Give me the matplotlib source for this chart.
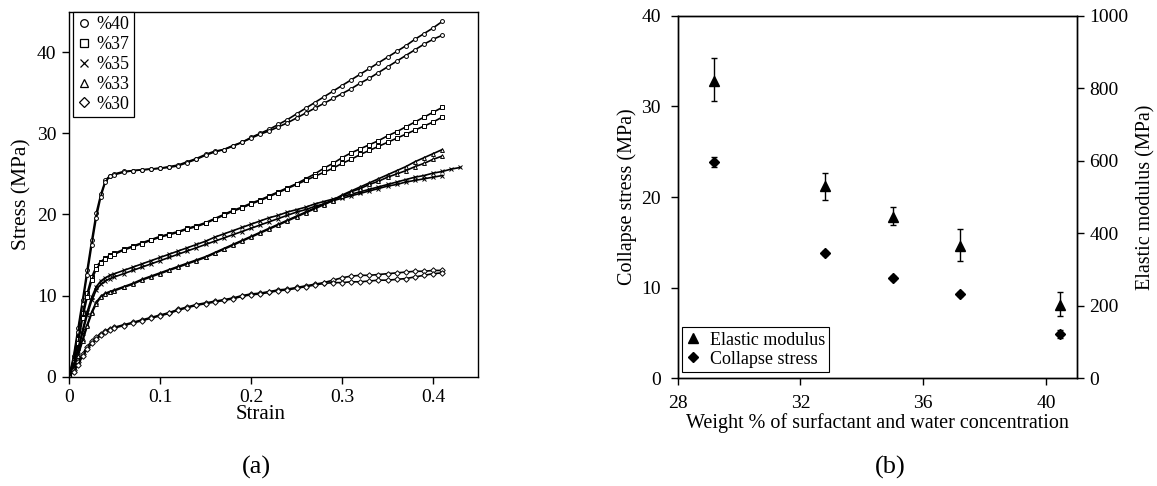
import matplotlib
matplotlib.use("Agg")
import matplotlib.pyplot as plt
from matplotlib.lines import Line2D

plt.rcParams['font.family'] = ['Liberation Serif', 'DejaVu Serif']
plt.rcParams['mathtext.fontset'] = 'stix'

# ---------------------------------------------------------------
# (a) stress-strain curves, two runs per concentration
# ---------------------------------------------------------------
strain = [0, 0.005, 0.01, 0.015, 0.02, 0.025, 0.03, 0.035, 0.04, 0.045,
          0.05, 0.06, 0.07, 0.08, 0.09, 0.10, 0.11, 0.12, 0.13, 0.14,
          0.15, 0.16, 0.17, 0.18, 0.19, 0.20, 0.21, 0.22, 0.23, 0.24,
          0.25, 0.26, 0.27, 0.28, 0.29, 0.30, 0.31, 0.32, 0.33, 0.34,
          0.35, 0.36, 0.37, 0.38, 0.39, 0.40, 0.41]

s40_a = [0, 2.5, 6.0, 9.5, 13.2, 16.8, 20.2, 22.5, 24.2, 24.8,
         25.0, 25.3, 25.4, 25.5, 25.6, 25.7, 25.9, 26.1, 26.5, 26.9,
         27.4, 27.8, 28.0, 28.5, 28.9, 29.5, 30.0, 30.5, 31.1, 31.7,
         32.4, 33.1, 33.8, 34.5, 35.2, 35.9, 36.6, 37.3, 38.0, 38.7,
         39.4, 40.1, 40.8, 41.6, 42.3, 43.0, 43.8]
s40_b = [0, 2.2, 5.5, 9.0, 12.6, 16.2, 19.6, 22.2, 24.0, 24.7,
         24.9, 25.2, 25.4, 25.5, 25.6, 25.7, 25.8, 26.0, 26.4, 26.8,
         27.3, 27.7, 28.0, 28.4, 28.9, 29.4, 29.9, 30.3, 30.8, 31.3,
         31.9, 32.5, 33.1, 33.7, 34.3, 34.9, 35.5, 36.2, 36.8, 37.5,
         38.2, 38.9, 39.6, 40.3, 41.0, 41.6, 42.1]

s37_a = [0, 2.0, 4.6, 7.8, 10.3, 12.3, 13.6, 14.2, 14.6, 15.0,
         15.2, 15.7, 16.1, 16.5, 16.9, 17.3, 17.6, 17.9, 18.3, 18.6,
         19.0, 19.5, 20.0, 20.5, 20.9, 21.4, 21.8, 22.3, 22.8, 23.3,
         23.8, 24.4, 25.0, 25.7, 26.3, 27.0, 27.6, 28.1, 28.6, 29.1,
         29.7, 30.2, 30.8, 31.4, 32.0, 32.6, 33.2]
s37_b = [0, 1.8, 4.2, 7.2, 9.8, 11.9, 13.3, 14.0, 14.5, 14.9,
         15.1, 15.6, 16.0, 16.4, 16.8, 17.2, 17.5, 17.8, 18.2, 18.5,
         18.9, 19.4, 19.9, 20.4, 20.8, 21.3, 21.7, 22.2, 22.7, 23.2,
         23.7, 24.2, 24.7, 25.2, 25.7, 26.3, 26.8, 27.4, 27.9, 28.4,
         28.9, 29.4, 29.9, 30.4, 30.9, 31.4, 32.0]

s35_a = [0, 1.5, 3.5, 5.8, 8.0, 9.8, 11.1, 11.8, 12.2, 12.5,
         12.7, 13.1, 13.5, 13.9, 14.3, 14.7, 15.1, 15.5, 15.9, 16.3,
         16.7, 17.2, 17.6, 18.0, 18.4, 18.8, 19.2, 19.6, 19.9, 20.3,
         20.6, 20.9, 21.3, 21.6, 21.9, 22.2, 22.5, 22.8, 23.1, 23.4,
         23.7, 24.0, 24.3, 24.6, 24.8, 25.1, 25.3]
s35_a_tail_strain = [0.42, 0.43]
s35_a_tail = [25.6, 25.8]
s35_b = [0, 1.3, 3.2, 5.4, 7.6, 9.4, 10.7, 11.4, 11.8, 12.1,
         12.3, 12.7, 13.1, 13.5, 13.9, 14.3, 14.7, 15.1, 15.5, 15.9,
         16.3, 16.7, 17.1, 17.5, 17.9, 18.3, 18.7, 19.1, 19.5, 19.9,
         20.3, 20.6, 21.0, 21.3, 21.7, 22.0, 22.3, 22.6, 22.9, 23.2,
         23.5, 23.7, 24.0, 24.2, 24.4, 24.6, 24.8]

s33_a = [0, 1.2, 2.8, 4.6, 6.4, 8.0, 9.2, 9.9, 10.3, 10.5,
         10.7, 11.1, 11.5, 12.0, 12.4, 12.8, 13.2, 13.6, 14.0, 14.4,
         14.8, 15.3, 15.8, 16.3, 16.8, 17.3, 17.8, 18.3, 18.8, 19.3,
         19.8, 20.3, 20.8, 21.3, 21.8, 22.4, 22.9, 23.4, 23.9, 24.4,
         24.9, 25.4, 25.9, 26.5, 27.0, 27.5, 28.0]
s33_b = [0, 1.0, 2.6, 4.4, 6.2, 7.8, 9.0, 9.8, 10.2, 10.4,
         10.6, 11.0, 11.4, 11.9, 12.3, 12.7, 13.1, 13.5, 13.9, 14.3,
         14.7, 15.2, 15.7, 16.2, 16.7, 17.2, 17.7, 18.2, 18.7, 19.2,
         19.7, 20.2, 20.7, 21.2, 21.7, 22.3, 22.8, 23.2, 23.7, 24.1,
         24.6, 25.0, 25.4, 25.9, 26.3, 26.8, 27.2]

s30_a = [0, 0.8, 1.8, 2.8, 3.7, 4.4, 4.9, 5.3, 5.6, 5.9,
         6.1, 6.4, 6.7, 7.0, 7.3, 7.6, 7.9, 8.3, 8.6, 8.9,
         9.1, 9.3, 9.5, 9.7, 10.0, 10.2, 10.3, 10.5, 10.7, 10.8,
         11.0, 11.2, 11.4, 11.6, 11.9, 12.2, 12.4, 12.5, 12.5, 12.6,
         12.7, 12.8, 12.9, 13.0, 13.0, 13.1, 13.1]
s30_b = [0, 0.6, 1.5, 2.5, 3.4, 4.1, 4.7, 5.1, 5.5, 5.8,
         6.0, 6.3, 6.6, 6.9, 7.2, 7.5, 7.8, 8.2, 8.5, 8.8,
         9.0, 9.2, 9.4, 9.6, 9.9, 10.1, 10.2, 10.4, 10.6, 10.7,
         10.9, 11.1, 11.3, 11.5, 11.6, 11.6, 11.7, 11.7, 11.8, 11.9,
         11.9, 12.0, 12.1, 12.3, 12.5, 12.7, 12.8]

conc_labels = ['%40', '%37', '%35', '%33', '%30']

# ---------------------------------------------------------------
# (b) collapse stress and elastic modulus vs concentration
# ---------------------------------------------------------------
weight = [29.2, 32.8, 35.0, 37.2, 40.45]
collapse = [23.85, 13.8, 11.05, 9.3, 4.9]
collapse_err = [0.55, 0.2, 0.2, 0.2, 0.4]
modulus = [820, 529, 446, 366, 202]
modulus_err_lo = [55, 37, 24, 42, 29]
modulus_err_hi = [63, 37, 26, 47, 35]

fig = plt.figure(figsize=(11.57, 4.86), dpi=100)

# ---------------- panel (a) ----------------
ax1 = fig.add_axes([0.0596, 0.2249, 0.3533, 0.7510])
curve_style = dict(color='black', lw=1.2, ms=2.8, mfc='white', mew=0.7)
ax1.plot(strain, s40_a, marker='o', **curve_style)
ax1.plot(strain, s40_b, marker='o', **curve_style)
ax1.plot(strain, s37_a, marker='s', **curve_style)
ax1.plot(strain, s37_b, marker='s', **curve_style)
ax1.plot(strain + s35_a_tail_strain, s35_a + s35_a_tail, marker='x', **curve_style)
ax1.plot(strain, s35_b, marker='x', **curve_style)
ax1.plot(strain, s33_a, marker='^', **curve_style)
ax1.plot(strain, s33_b, marker='^', **curve_style)
ax1.plot(strain, s30_a, marker='D', **curve_style)
ax1.plot(strain, s30_b, marker='D', **curve_style)

ax1.set_xlim(0, 0.449)
ax1.set_ylim(0, 45)
ax1.set_xticks([0, 0.1, 0.2, 0.3, 0.4])
ax1.set_xticklabels(['0', '0.1', '0.2', '0.3', '0.4'])
ax1.set_yticks([0, 10, 20, 30, 40])
ax1.tick_params(direction='out', length=5, width=1, labelsize=14, pad=4)
for sp in ax1.spines.values():
    sp.set_linewidth(1.0)
ax1.set_ylabel('Stress (MPa)', fontsize=15.5, labelpad=4)

leg_markers = ['o', 's', 'x', '^', 'D']
handles_a = [Line2D([], [], ls='none', marker=m, color='black', mfc='white',
                    ms=5.5, mew=0.9) for m in leg_markers]
leg_a = ax1.legend(handles_a, conc_labels, loc='upper left',
                   bbox_to_anchor=(0.01, 1.0), borderaxespad=0,
                   fontsize=13, handlelength=0.7, handletextpad=0.35,
                   labelspacing=0.16, borderpad=0.25, fancybox=False,
                   framealpha=1, edgecolor='black')
leg_a.get_frame().set_linewidth(0.9)

fig.text(0.2256, 1 - 414 / 486, 'Strain', ha='center', va='center', fontsize=15)
fig.text(0.222, 1 - 467 / 486, '(a)', ha='center', va='center', fontsize=19)

# ---------------- panel (b) ----------------
ax2 = fig.add_axes([0.5857, 0.2216, 0.3449, 0.7461])
ax3 = ax2.twinx()

ax2.errorbar(weight, collapse, yerr=collapse_err, fmt='D', color='black',
             ms=5.5, elinewidth=1, capsize=2.5, capthick=1)
ax3.errorbar(weight, modulus, yerr=[modulus_err_lo, modulus_err_hi], fmt='^',
             color='black', ms=7.5, elinewidth=1, capsize=2.5, capthick=1)

ax2.set_xlim(28, 41)
ax2.set_ylim(0, 40)
ax3.set_ylim(0, 1000)
ax2.set_xticks([28, 32, 36, 40])
ax2.set_yticks([0, 10, 20, 30, 40])
ax3.set_yticks([0, 200, 400, 600, 800, 1000])
ax2.tick_params(direction='out', length=5, width=1, labelsize=14, pad=7)
ax3.tick_params(direction='out', length=5, width=1, labelsize=14, pad=4)
for sp in list(ax2.spines.values()) + list(ax3.spines.values()):
    sp.set_linewidth(1.0)

ax2.set_ylabel('Collapse stress (MPa)', fontsize=14.5, labelpad=3)
ax3.set_ylabel('Elastic modulus (MPa)', fontsize=14.5, labelpad=6)
ax2.set_xlabel('Weight % of surfactant and water concentration',
               fontsize=14.5, labelpad=1)

handles_b = [Line2D([], [], ls='none', marker='^', color='black', ms=7),
             Line2D([], [], ls='none', marker='D', color='black', ms=5.5)]
leg_b = ax3.legend(handles_b, ['Elastic modulus', 'Collapse stress'],
                   loc='lower left', bbox_to_anchor=(0.01, 0.017),
                   borderaxespad=0, fontsize=13, handlelength=0.8,
                   handletextpad=0.5, labelspacing=0.1, borderpad=0.25,
                   fancybox=False, framealpha=1, edgecolor='black')
leg_b.get_frame().set_linewidth(0.8)

fig.text(890 / 1157, 1 - 467 / 486, '(b)', ha='center', va='center', fontsize=19)

fig.savefig('out.png', dpi=100)
